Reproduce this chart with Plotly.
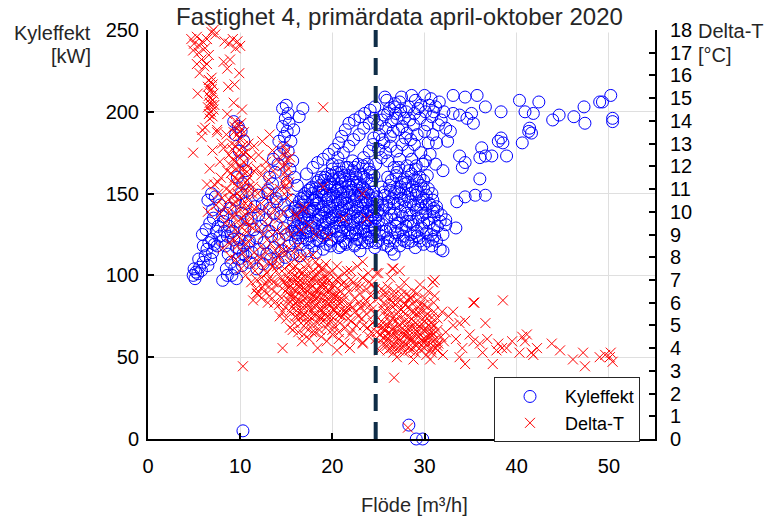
import plotly.graph_objects as go

# ---------------- data ----------------
# Kyleffekt [kW] vs Flöde [m3/h]
kyl_tail_left = [(4.9,100),(5.1,98),(5.2,102),(5.0,104),(5.4,101),(5.6,105),(5.8,103),(6.0,108),(5.5,110),
    (6.2,112),(6.5,106),(6.8,110),(6.4,116),(7.0,114),(7.2,119),(6.9,122),(7.5,118),(7.8,124),(7.4,127),
    (8.0,121),(8.3,127),(8.6,124),(6.6,120),(6.0,118),(5.9,125),(6.3,128),(6.7,132),(7.1,135),(7.0,140),
    (6.5,146),(7.3,148),(6.9,150),(7.8,143),(8.2,133),(8.5,138),(8.8,130),(9.0,126),(9.3,122),(8.4,118),
    (8.7,113),(9.0,108),(8.5,104),(9.1,100),(9.6,98),(8.1,97),(8.6,100),(9.4,104),(9.8,110),(10.2,106),
    (10.6,112),(10.4,118),(9.9,116),(7.6,130),(8.1,136),(8.9,141),(9.5,146),(10.1,150),(10.6,144),
    (10.2,138),(9.7,133),(9.2,127),(9.9,122),(10.5,128),(10.8,134),(10.9,120),(10.3,113),(9.6,117)]
kyl_mid_left = [(11.0,108),(11.8,104),(12.5,107),(13.3,110),(14.1,108),(14.9,111),(15.7,113),(16.5,112),
    (17.3,115),(18.2,114),(19.0,116),(19.8,118),(20.7,117),(21.5,119),(22.4,118),(23.2,120),
    (11.3,114),(12.1,116),(12.9,113),(13.7,117),(14.5,115),(15.3,118),(11.0,121),(11.8,123),(12.6,120),
    (13.4,124),(14.2,122),(15.0,125),(11.5,128),(12.3,130),(13.1,127),(13.9,131),(14.7,129),(11.2,135),
    (12.0,137),(12.8,134),(13.6,138),(14.4,136),(15.2,139),(11.6,142),(12.4,144),(13.2,141),(14.0,145),
    (14.8,143),(15.6,146),(12.0,149),(13.0,150)]
kyl_core = [(16.0,121),(16.8,123),(17.5,120),(18.3,122),(19.0,124),(19.8,121),(20.6,123),(21.4,120),
    (22.1,124),(22.9,122),(23.6,125),(15.6,127),(16.4,128),(17.1,126),(17.9,129),(18.6,127),(19.4,126),
    (20.2,129),(21.0,127),(21.7,128),(22.5,126),(23.3,129),(24.0,127),(15.8,133),(16.6,131),(17.3,134),
    (18.1,132),(18.9,131),(19.6,134),(20.4,132),(21.2,133),(21.9,131),(22.7,134),(23.5,132),(24.2,133),
    (15.5,137),(16.3,138),(17.0,136),(17.7,139),(18.5,137),(19.2,138),(20.0,136),(20.8,139),(21.6,137),
    (22.3,138),(23.1,136),(23.8,139),(16.0,142),(16.8,143),(17.5,141),(18.3,144),(19.0,142),(19.8,141),
    (20.6,144),(21.3,142),(22.1,143),(22.8,141),(23.6,144),(24.3,142),(16.6,147),(17.3,148),(18.1,146),
    (18.8,149),(19.6,147),(20.4,148),(21.1,146),(21.9,149),(22.6,147),(23.4,148),(24.1,146),(17.4,152),
    (18.2,153),(18.9,151),(19.7,154),(20.5,152),(21.2,151),(22.0,154),(22.8,152),(23.5,153),(18.3,157),
    (19.1,158),(19.9,156),(20.7,159),(21.4,157),(22.2,158),(23.0,156),(23.7,159),(19.5,162),(20.4,163),
    (21.3,161),(22.2,164),(23.1,162),(24.0,165),
    (16.2,125),(17.7,124),(19.3,125),(20.9,124),(22.5,125),(23.9,123),(16.2,130),(17.7,130),(19.2,129),
    (20.8,130),(22.3,129),(23.9,130),(16.9,135),(18.4,134),(19.9,135),(21.5,134),(23.0,135),(16.4,140),
    (17.9,140),(19.4,139),(21.0,140),(22.5,139),(24.0,140),(17.0,145),(18.5,144),(20.0,145),(21.6,144),
    (23.1,145),(17.8,150),(19.3,149),(20.9,150),(22.4,149),(23.9,150),(18.7,155),(20.3,154),(21.8,155),
    (23.3,154),(19.2,160),(20.8,160),(22.6,160)]
kyl_core_extra = [(16.6,119),(18.0,118),(19.4,119),(20.9,118),(22.4,119),(23.8,120),
    (16.0,126),(17.4,127),(18.9,126),(20.4,127),(21.9,126),(23.4,127),(24.6,128),
    (16.3,134),(17.8,133),(19.3,133),(20.8,134),(22.3,133),(23.8,134),(24.7,135),
    (15.9,141),(17.3,139),(18.8,140),(20.3,139),(21.8,141),(23.3,139),(24.6,141),
    (16.4,145),(17.9,146),(19.4,146),(20.9,145),(22.4,146),(23.8,145),
    (17.0,150),(18.5,151),(20.1,150),(21.6,151),(23.1,150),(24.5,151),
    (17.8,154),(19.4,155),(21.0,154),(22.6,155),(24.2,156),
    (18.8,160),(20.1,159),(21.8,161),(23.4,160),(24.5,161),(20.0,165),(21.7,166),(23.3,167),
    (16.3,123),(17.2,122),(18.6,121),(19.9,122),(21.2,121),(22.7,122),(24.2,121),
    (15.9,129),(17.0,128),(18.3,128),(19.7,128),(21.2,129),(22.6,128),(24.3,129),
    (16.6,136),(17.4,137),(18.8,136),(20.2,137),(21.0,136),(22.7,136),(24.4,137),
    (16.7,139),(18.1,141),(19.6,142),(21.1,141),(22.7,142),(24.2,139),
    (16.9,148),(18.3,148),(19.8,149),(21.4,147),(23.0,149),(24.4,147),
    (17.6,153),(19.0,153),(20.6,153),(22.1,152),(23.7,151),
    (18.5,158),(19.7,157),(21.1,158),(22.7,157),(24.3,158),
    (19.9,161),(21.0,163),(22.5,162),(24.1,163),(20.7,167),(22.4,166),(23.8,168)]
kyl_branches = [(9.3,194),(9.8,191),(10.1,188),(9.5,186),(10.4,182),(9.9,176),(10.2,170),(10.6,164),
    (9.7,160),(10.3,156),(10.8,152),(13.0,152),(13.5,156),(13.2,160),(13.8,163),(14.1,168),(13.6,171),
    (14.3,174),(14.7,178),(14.2,182),(14.8,185),(15.1,188),(14.6,191),(15.3,193),(14.9,196),(15.2,199),
    (14.6,202),(15.0,204),(16.8,202),(16.4,197),(15.8,189),(15.5,182),(15.2,176),(15.7,170),(15.4,165),
    (15.9,160),(15.1,157),(16.2,155),(14.5,150),(13.9,147),(17.2,162),(17.9,166),(18.4,169),(19.0,171),
    (19.6,174),(20.2,177),(20.7,181),(21.0,185),(21.4,189),(21.8,193),(22.4,195),(23.0,197),(23.5,199),
    (24.1,201),(24.6,203),(20.0,168),(20.6,172),(21.2,175),(21.8,179),(22.3,183),(22.9,186),(23.4,190),
    (24.0,193),(24.5,196),(22.8,168),(23.4,172),(24.0,176),(24.4,180),(21.5,166),(22.2,170)]
kyl_right_low = [(24.6,117),(25.5,119),(26.4,116),(27.3,118),(28.2,120),(29.0,117),(29.9,119),(30.8,118),
    (31.7,116),(24.3,124),(25.1,125),(26.0,123),(26.8,126),(27.7,124),(28.5,125),(29.4,123),(30.2,126),
    (31.1,124),(32.0,125),(24.6,130),(25.4,131),(26.3,129),(27.1,132),(28.0,130),(28.8,131),(29.7,129),
    (30.5,132),(31.4,130),(32.3,131),(24.2,136),(25.0,137),(25.9,135),(26.7,138),(27.6,136),(28.4,137),
    (29.3,135),(30.1,138),(31.0,136),(31.8,137),(24.5,142),(25.4,143),(26.2,141),(27.1,144),(27.9,142),
    (28.8,143),(29.6,141),(30.5,144),(31.3,142),(24.8,148),(25.7,149),(26.5,147),(27.4,150),(28.2,148),
    (29.1,149),(29.9,147),(30.8,150),(25.3,154),(26.2,155),(27.0,153),(27.9,156),(28.7,154),(29.6,155),
    (30.4,153),(26.0,160),(26.9,161),(27.8,159),(28.6,162),(29.5,160),(30.3,161),(27.2,166),(28.1,167),
    (29.0,165),(29.8,168),(25.0,121),(26.8,121),(28.6,121),(30.4,121),(25.8,127),(27.5,128),(29.2,127),
    (31.0,128),(25.0,133),(26.8,134),(28.5,133),(30.3,134),(25.5,140),(27.4,139),(29.1,140),(30.9,139),
    (26.1,145),(27.8,146),(29.6,145),(27.2,151),(29.0,152),(28.2,157),(26.7,113),(23.0,115),(32.0,115),
    (25.4,127),(27.1,126),(28.9,126),(30.7,125),(24.9,145),(26.7,144),(28.5,145),(30.2,143),(25.6,151),
    (27.4,154),(29.3,151),(30.9,146),(26.4,158),(28.3,164),(29.9,158),(26.9,130),(28.2,133),(29.9,132),
    (31.7,133),(26.0,118),(27.8,121),(29.5,121),(31.3,121),
    (24.7,120),(26.2,121),(27.6,122),(29.2,124),(30.9,122),(24.9,139),(26.4,137),(28.1,138),(29.8,137),
    (31.4,139),(25.9,143),(27.5,147),(29.3,143),(31.0,141),(26.7,150),(28.5,150),(30.2,149),(26.3,152),
    (28.0,153),(29.9,153),(27.5,157),(29.2,158),(27.0,163),(28.9,159)]
kyl_right_high = [(25.1,186),(25.8,190),(26.4,194),(25.6,198),(26.2,202),(25.9,207),(26.8,205),(27.4,201),
    (27.0,196),(27.6,191),(28.1,187),(28.4,195),(28.9,199),(28.3,203),(29.0,207),(29.6,204),(30.1,200),
    (29.5,196),(30.3,192),(30.8,197),(31.2,203),(30.7,208),(31.6,206),(32.1,200),(31.8,195),(32.3,190),
    (27.5,209),(28.6,210),(26.6,188),(27.9,184),(29.2,186),(24.9,192),(25.4,183),(26.9,199),(30.0,210),
    (24.7,168),(25.3,172),(25.0,177),(25.8,175),(26.3,179),(26.0,170),(26.7,166),(27.3,171),(27.0,176),
    (27.6,180),(28.2,176),(28.6,171),(29.1,167),(28.9,180),(29.6,175),(30.1,170),(30.6,174),(31.2,168),
    (30.4,181),(24.5,184),(25.6,181),
    (25.4,195),(26.0,199),(26.7,203),(27.3,206),(27.8,196),(28.0,200),(28.8,192),(29.3,202),(30.5,204),
    (31.0,200),(31.5,192),(26.3,185),(27.2,189),(28.5,183),(30.0,188),(30.9,186)]
kyl_outliers = [(25.7,209),(33.1,210),(34.4,209),(35.7,210),(36.6,203),(38.3,200),(40.3,207),(42.4,206),
    (40.9,200),(41.8,199),(43.9,195),(44.6,198),(46.2,197),(47.3,203),(47.4,193),(49.0,206),(49.3,206),
    (50.2,210),(50.4,196),(50.4,194),(41.4,190),(41.6,187),(41.3,188),(33.1,199),(33.8,198),(34.6,196),
    (35.1,199),(35.3,193),(32.8,188),(31.3,181),(32.5,182),(33.8,173),(34.4,169),(34.1,166),(36.2,178),
    (36.0,172),(36.6,173),(37.3,173),(38.0,182),(38.5,181),(38.3,184),(38.9,173),(40.6,181),(36.0,159),
    (36.6,149),(35.5,149),(34.4,148),(33.5,145),(33.4,129),(32.3,134),(32.0,164),
    (10.3,5),(28.3,8.5),(29.1,0),(29.8,0)]

# Delta-T [°C] vs Flöde [m3/h]
dt_top = [(4.7,17.6),(5.0,17.4),(5.3,17.7),(5.6,17.3),(5.9,17.5),(6.2,17.2),(5.5,17.0),(4.9,17.1),(6.4,17.6),
    (6.9,17.9),(7.3,17.8),(7.1,18.0),(8.3,17.5),(8.8,17.4),(9.2,17.6),(9.7,17.5),(10.0,17.3),(9.5,17.2),
    (5.8,16.7),(6.1,16.4),(5.6,16.1),(6.4,16.5),(6.6,16.9),(5.3,16.5),(8.2,16.6),(8.6,16.3),(8.9,16.7),
    (9.9,16.1),(5.4,15.2),(8.7,15.5),(9.4,15.6),(10.2,14.5),(9.3,14.8),(8.6,14.3),
    (6.6,15.8),(6.8,15.7),(7.0,15.6),(6.5,15.5),(6.9,15.4),(6.7,15.3),(7.1,15.2),(6.6,15.1),(6.8,15.0),
    (7.0,14.9),(6.7,14.8),(6.9,14.7),(6.5,14.6),(7.1,14.5),(6.8,14.4),(6.6,14.3),(7.0,14.2),(6.7,14.1),
    (6.9,15.9),(7.2,14.7),(4.9,12.6),(6.2,13.7),(5.8,13.3),(5.9,13.6),(7.5,13.6),(7.0,12.7),(6.4,11.2),
    (6.5,10.0),(6.7,11.9),(7.5,13.5),(7.8,12.2),(8.0,13.0),(7.6,11.3),(7.2,11.2),(7.6,10.8),(7.9,11.5),
    (7.4,10.3),(8.0,10.6),(7.8,9.9)]
dt_column = [(9.5,14.0),(9.8,13.8),(10.1,13.9),(9.3,13.5),(9.7,13.4),(10.0,13.2),(10.4,13.5),(9.1,13.0),
    (9.5,12.9),(9.9,12.7),(10.3,12.9),(10.6,12.6),(8.8,12.5),(9.2,12.3),(9.6,12.2),(10.0,12.0),(10.4,12.2),
    (10.8,12.0),(8.6,11.8),(9.0,11.7),(9.4,11.5),(9.8,11.4),(10.2,11.6),(10.6,11.3),(11.0,11.5),(8.5,11.0),
    (8.9,10.9),(9.3,10.7),(9.7,10.8),(10.1,10.6),(10.5,10.9),(10.9,10.5),(11.3,10.8),(8.3,10.2),(8.8,10.0),
    (9.2,10.3),(9.6,9.9),(10.0,10.1),(10.4,9.8),(10.8,10.0),(11.2,9.7),(11.6,10.1),(8.4,9.5),(9.0,9.4),
    (9.5,9.2),(10.2,9.3),(10.7,9.1),(11.4,9.3),(8.2,12.8),(8.5,13.4),(10.9,13.0),(11.2,12.4),(11.5,11.8),
    (9.2,8.8),(9.7,8.5),(10.3,8.2),(10.8,7.9),(9.5,7.9),(10.1,7.5),(10.6,7.2),(11.2,6.9),(11.7,6.6),
    (9.9,8.9),(11.6,7.4),(12.3,6.2),(9.0,8.0),(8.9,8.6),(8.1,8.4),(11.8,6.4),
    (9.35,13.75),(9.95,13.55),(9.15,12.75),(9.75,12.45),(10.35,12.55),(8.95,12.05),(9.55,11.9),
    (10.15,11.85),(10.75,11.75),(9.15,11.3),(9.75,11.1),(10.35,11.05),(10.95,11.1),(8.75,10.55),
    (9.45,10.45),(10.25,10.35),(10.85,10.25),(9.1,9.8),(9.8,9.6),(10.5,9.55),(11.0,9.4)]
dt_diagonal = [(11.5,12.9),(12.0,12.5),(12.4,13.1),(12.8,12.2),(13.2,13.4),(13.5,12.7),(11.8,11.9),
    (12.3,11.6),(12.7,11.9),(13.1,11.4),(13.6,11.8),(14.0,12.3),(11.4,11.1),(11.9,10.8),(12.4,11.0),
    (12.9,10.6),(13.4,10.9),(13.9,10.5),(14.3,11.0),(11.7,10.2),(12.2,9.9),(12.7,10.2),(13.2,9.8),
    (13.7,10.1),(14.2,9.7),(14.7,10.0),(12.0,9.3),(12.5,9.0),(13.0,9.4),(13.5,9.0),(14.0,9.2),(14.5,8.9),
    (15.0,9.3),(15.5,9.0),(12.3,8.5),(12.8,8.2),(13.3,8.6),(13.8,8.3),(14.3,8.5),(14.8,8.1),(15.3,8.4),
    (15.8,8.2),(16.3,8.5),(11.0,8.7),(11.5,8.2),(10.6,8.6),(11.1,7.7),(12.0,7.8),(12.6,7.5),(13.1,7.8),
    (14.7,12.9),(15.0,12.7),(14.8,12.5),(15.1,12.3),(14.9,12.1),(15.2,11.9),(14.8,11.7),(15.0,11.5),
    (15.3,11.3),(14.9,11.1),(15.1,10.9),(15.2,10.6),(14.6,12.0),(15.4,12.4),(14.7,11.3),
    (16.1,9.8),(16.8,10.1),(17.0,10.2),(16.0,9.9),(19.0,11.1),(23.3,10.8),(21.2,9.7),(23.7,9.7),
    (19.0,14.6),(17.5,9.4),(18.2,9.0),(16.6,9.2),(19.5,8.9),
    (12.3,7.1),(12.9,7.3),(13.4,7.0),(13.9,7.4),(14.4,7.1),(12.6,6.5),(11.8,7.0),(12.1,8.0),(13.8,7.9)]
dt_band = [(15.0,7.2),(15.6,7.3),(16.2,7.1),(16.8,7.3),(17.4,7.2),(18.0,7.1),(18.6,7.3),(19.2,7.2),
    (14.7,6.9),(15.3,6.8),(15.9,6.9),(16.5,6.8),(17.1,6.9),(17.7,6.8),(18.3,6.9),(18.9,6.8),(19.5,6.9),
    (20.1,6.8),(14.9,6.5),(15.5,6.4),(16.1,6.5),(16.7,6.6),(17.3,6.5),(17.9,6.4),(18.5,6.5),(19.1,6.6),
    (19.7,6.5),(20.3,6.4),(20.9,6.5),(15.2,6.1),(15.8,6.2),(16.4,6.1),(17.0,6.2),(17.6,6.1),(18.2,6.2),
    (18.8,6.1),(19.4,6.2),(20.0,6.1),(20.6,6.2),(21.2,6.1),(15.6,5.8),(16.2,5.9),(16.8,5.8),(17.4,5.9),
    (18.0,5.8),(18.6,5.7),(19.2,5.8),(19.8,5.9),(20.4,5.8),(21.0,5.7),(21.6,5.8),(16.3,5.4),(16.9,5.5),
    (17.5,5.4),(18.1,5.5),(18.7,5.4),(19.3,5.5),(19.9,5.4),(20.5,5.5),(21.1,5.4),(17.2,5.1),(17.8,5.0),
    (18.4,5.1),(19.0,5.2),(19.6,5.1),(20.2,5.0),(20.8,5.1),(15.3,7.0),(16.5,7.0),(17.7,7.0),(18.9,7.0),
    (15.2,6.65),(16.4,6.7),(17.6,6.65),(18.8,6.7),(20.0,6.65),(15.5,6.3),(16.7,6.35),(17.9,6.3),(19.1,6.35),
    (20.3,6.3),(16.0,6.0),(17.2,5.95),(18.4,6.0),(19.6,5.95),(20.8,6.0),(16.6,5.6),(17.8,5.65),(19.0,5.6),
    (20.2,5.65),(17.5,5.25),(18.7,5.3),(19.9,5.25),
    (13.5,7.6),(14.2,8.0),(14.6,8.3),(15.4,7.7),(16.0,7.6),(16.6,8.0),(17.3,7.7),(17.9,8.1),(18.5,7.6),
    (19.3,7.7),(20.0,7.4),(20.6,7.1),(21.3,6.9),(22.0,7.0),(22.6,6.7),(23.3,7.1),(24.0,6.9),(21.6,7.4),
    (22.7,7.6),(12.7,6.8),(13.2,6.3),(13.6,6.9),(14.0,6.4),(14.2,5.9),(14.6,5.6),(15.0,5.3),(15.4,4.9),
    (15.9,5.1),(16.3,4.7),(16.9,4.6),(17.5,4.4),(18.1,4.7),(18.8,4.5),(19.4,4.3),(20.0,4.6),(20.7,4.4),
    (21.3,4.2),(21.9,4.6),(22.6,4.4),(23.3,4.2),(24.0,4.5),(11.9,6.4),(11.4,6.1),(13.0,6.0),(14.3,5.4),
    (14.6,4.0),(15.7,4.8),(16.7,4.3),(18.4,4.0),(20.5,3.9),(21.9,4.0),(23.3,4.25),
    (21.8,6.5),(22.4,6.2),(23.0,6.4),(23.6,6.1),(24.2,6.3),(21.9,5.9),(22.5,5.6),(23.1,5.8),(23.7,5.5),
    (24.3,5.7),(22.0,5.2),(22.6,5.0),(23.2,5.3),(23.8,4.9),(24.4,5.1),(24.6,6.6),(24.8,4.7)]
dt_band_extra = [(14.0,7.6),(14.8,7.5),(15.7,7.5),(16.4,7.4),(17.1,7.5),(17.9,7.4),(18.8,7.5),(19.7,7.3),
    (20.4,7.0),(21.0,6.8),(21.6,6.7),(22.3,6.9),(23.0,6.7),(23.7,6.6),(24.3,6.8),(13.4,6.6),(14.1,6.8),
    (14.5,6.2),(13.7,6.0),(14.9,5.8),(15.4,5.6),(16.0,5.4),(16.6,5.1),(17.1,4.9),(17.8,4.7),(18.6,4.8),
    (19.3,4.9),(20.0,4.8),(20.7,4.7),(21.4,4.9),(21.7,5.3),(21.5,5.6),(22.2,5.8),(22.9,6.0),(23.5,5.9),
    (24.1,5.9),(22.8,5.4),(23.4,5.0),(24.2,4.7),(22.2,4.8),(15.9,7.9),(17.0,8.0),(18.2,7.8),(19.0,7.5),
    (20.5,7.6),(21.3,7.3),(22.0,7.4),(23.9,7.3),(13.0,7.0),(12.4,6.7),
    (15.0,6.8),(15.7,6.6),(16.3,6.85),(17.0,6.6),(17.6,6.85),(18.2,6.55),(18.9,6.85),(19.5,6.55),(20.2,6.75),
    (15.4,6.05),(16.0,6.25),(16.7,6.0),(17.3,6.3),(18.0,6.05),(18.6,6.3),(19.3,6.0),(19.9,6.3),(20.6,6.05),
    (21.3,6.3),(16.1,5.65),(16.8,5.4),(17.4,5.7),(18.1,5.4),(18.8,5.7),(19.4,5.35),(20.1,5.7),(20.8,5.45),
    (21.4,5.6),(15.8,7.1),(16.9,7.15),(18.1,7.2),(19.4,7.05)]
dt_right = [(25.3,6.6),(26.0,6.7),(26.7,6.5),(27.4,6.6),(28.1,6.4),(28.8,6.5),(25.0,6.2),(25.7,6.3),
    (26.4,6.1),(27.1,6.2),(27.8,6.0),(28.5,6.2),(29.2,6.1),(29.9,5.9),(25.4,5.8),(26.1,5.7),(26.8,5.9),
    (27.5,5.7),(28.2,5.8),(28.9,5.6),(29.6,5.7),(30.3,5.5),(31.0,5.6),(25.8,5.4),(26.5,5.3),(27.2,5.4),
    (27.9,5.2),(28.6,5.3),(29.3,5.4),(30.0,5.2),(30.7,5.1),(31.4,5.3),(25.4,4.9),(26.0,5.0),(26.6,4.9),
    (27.2,5.0),(27.8,4.8),(28.4,4.9),(29.0,4.8),(29.6,4.9),(30.2,4.8),(30.8,4.7),(31.4,4.8),(25.2,4.6),
    (25.8,4.5),(26.4,4.6),(27.0,4.5),(27.6,4.6),(28.2,4.5),(28.8,4.6),(29.4,4.5),(30.0,4.4),(30.6,4.5),
    (31.2,4.4),(31.8,4.5),(25.5,4.2),(26.1,4.3),(26.7,4.2),(27.3,4.1),(27.9,4.2),(28.5,4.3),(29.1,4.2),
    (29.7,4.1),(30.3,4.2),(30.9,4.1),(31.5,4.2),(32.1,4.3),(26.0,3.9),(26.6,3.8),(27.2,3.9),(27.8,3.8),
    (28.4,3.9),(29.0,3.8),(29.6,3.9),(30.2,3.7),(30.8,3.8),(31.4,3.9),(25.7,4.75),(26.9,4.7),(28.1,4.7),
    (29.3,4.7),(30.5,4.65),(26.1,4.4),(27.3,4.35),(28.5,4.4),(29.7,4.35),(30.9,4.3),(26.4,4.0),(27.6,4.0),
    (28.8,4.0),(30.0,4.0),(31.2,4.0),(24.6,5.5),(24.9,5.0),(24.7,4.4),(25.1,3.9),(27.0,3.6),(28.8,3.5),
    (30.6,3.5),(32.0,3.7),(32.3,4.7),(31.9,5.6),(31.1,6.3),(30.4,6.5),(29.5,6.8),(26.3,7.1),(27.8,6.9),
    (25.0,7.3),(26.5,7.5),(27.3,7.4),(31.1,7.0),(23.3,7.8),(24.8,7.3),(23.3,7.1),(30.9,6.9),(26.6,7.5),
    (25.5,5.1),(26.2,5.15),(26.9,5.2),(27.6,5.1),(28.3,5.15),(29.0,5.1),(29.7,5.05),(30.4,5.0),(31.1,5.0),
    (25.6,5.6),(26.4,5.5),(27.1,5.6),(27.9,5.5),(28.6,5.6),(29.4,5.55),(30.1,5.4),(30.8,5.35),(25.6,6.0),
    (26.3,5.9),(27.1,6.0),(27.9,5.9),(28.7,5.95),(29.5,5.9),(30.3,5.8),(25.8,6.45),(26.6,6.3),(27.5,6.35),
    (28.4,6.2),(29.2,6.4),(30.0,6.2),(31.0,6.0),
    (25.5,4.45),(26.3,4.55),(27.1,4.4),(27.9,4.55),(28.7,4.4),(29.5,4.6),(30.3,4.45),(31.0,4.6),
    (25.9,4.1),(26.7,4.0),(27.5,4.15),(28.3,4.05),(29.1,4.1),(29.9,4.25),(30.7,3.95),(31.4,4.1),
    (25.7,4.85),(26.5,4.8),(27.4,4.8),(28.2,4.85),(29.0,4.95),(29.9,4.8),(30.7,4.9)]
dt_tail = [(30.9,6.9),(35.3,6.0),(36.6,5.1),(33.1,5.6),(33.8,5.1),(33.1,5.0),(34.4,5.2),(33.8,3.6),
    (34.4,3.3),(34.1,4.0),(35.3,4.3),(36.0,4.2),(36.3,3.8),(37.4,3.3),(38.0,4.2),(38.4,4.0),(38.9,4.0),
    (37.8,3.9),(40.6,4.5),(40.9,4.3),(40.3,3.8),(41.6,3.8),(42.2,4.0),(41.8,3.7),(43.8,4.2),(44.7,3.9),
    (46.1,3.5),(47.2,3.8),(47.4,3.2),(49.0,3.6),(49.6,3.7),(50.1,3.6),(50.4,3.4),(50.2,3.8),(38.5,6.1),
    (41.1,4.6),(35.4,6.0),(32.6,5.4),(33.4,4.4),(34.9,4.6),(36.8,4.4),(39.5,4.3),
    (10.3,3.2),(26.7,2.7),(28.2,0.5)]

split_flow_m3h = 24.7          # dashed vertical line
x_ticks = [0, 10, 20, 30, 40, 50]
kw_ticks = [0, 50, 100, 150, 200, 250]
dt_ticks = list(range(0, 19))

kyl = (kyl_tail_left + kyl_mid_left + kyl_core + kyl_core_extra + kyl_branches + kyl_right_low
       + kyl_right_high + kyl_outliers)
dt = dt_top + dt_column + dt_diagonal + dt_band + dt_band_extra + dt_right + dt_tail

FONT = "Liberation Sans, Arial, sans-serif"

fig = go.Figure()
fig.add_trace(go.Scatter(
    x=[p[0] for p in kyl], y=[p[1] for p in kyl], mode="markers", name="Kyleffekt",
    marker=dict(symbol="circle-open", size=12, color="#0000ff", line=dict(width=1, color="#0000ff")),
    cliponaxis=False, yaxis="y"))
fig.add_trace(go.Scatter(
    x=[p[0] for p in dt], y=[p[1] for p in dt], mode="markers", name="Delta-T",
    marker=dict(symbol="x-thin-open", size=10, color="#ff0000", line=dict(width=1, color="#ff0000")),
    cliponaxis=False, yaxis="y2"))

fig.add_shape(type="line", xref="x", yref="y", x0=split_flow_m3h, x1=split_flow_m3h, y0=0, y1=250,
              line=dict(color="#0f2d47", width=4, dash="17px,11px"), layer="above")
# top border hidden behind title (as in reference)
fig.add_shape(type="rect", xref="x", yref="y", x0=3.5, x1=51.5, y0=248.5, y1=251.5,
              fillcolor="white", line=dict(width=0), layer="between")

axis_common = dict(showline=True, linecolor="black", linewidth=2, ticks="inside", ticklen=6,
                   tickwidth=2, tickcolor="black", zeroline=False,
                   tickfont=dict(family=FONT, size=20, color="black"))
fig.update_layout(
    width=770, height=517,
    margin=dict(l=148, r=115, t=30, b=78, pad=0),
    paper_bgcolor="white", plot_bgcolor="white",
    showlegend=True,
    xaxis=dict(range=[0, 55], tickvals=x_ticks, showgrid=True, gridcolor="#dfdfdf", gridwidth=1,
               ticklabelstandoff=8, **axis_common),
    yaxis=dict(range=[0, 250], tickvals=kw_ticks, showgrid=True, gridcolor="#dfdfdf", gridwidth=1,
               ticklabelstandoff=3, **axis_common),
    yaxis2=dict(range=[0, 18], tickvals=dt_ticks, overlaying="y", side="right", anchor="x",
                showgrid=False, ticklabelstandoff=9, **axis_common),
    legend=dict(x=(494 - 148) / 507, y=(438.7 - 377) / 408.7, xanchor="left", yanchor="top",
                bgcolor="white", bordercolor="#262626", borderwidth=1,
                font=dict(family=FONT, size=18, color="black"), itemwidth=60, traceorder="normal"),
    font=dict(family=FONT),
)

def px_x(px):
    return (px - 148) / 507

def px_y(py):
    return (438.7 - py) / 408.7

ann = [
    dict(text="Fastighet 4, primärdata april-oktober 2020", x=px_x(399), y=px_y(17), xanchor="center",
         yanchor="middle", font=dict(size=24, color="#262626")),
    dict(text="Kyleffekt", x=px_x(93), y=px_y(33), xanchor="right", yanchor="middle",
         font=dict(size=20, color="#262626")),
    dict(text="[kW]", x=px_x(93), y=px_y(56), xanchor="right", yanchor="middle",
         font=dict(size=20, color="#262626")),
    dict(text="Delta-T", x=px_x(696), y=px_y(31), xanchor="left", yanchor="middle",
         font=dict(size=20, color="#262626")),
    dict(text="[°C]", x=px_x(696), y=px_y(55), xanchor="left", yanchor="middle",
         font=dict(size=20, color="#262626")),
    dict(text="Flöde [m³/h]", x=px_x(414), y=px_y(505), xanchor="center", yanchor="middle",
         font=dict(size=20, color="#262626")),
]
for a in ann:
    a.update(xref="paper", yref="paper", showarrow=False)
    a["font"]["family"] = FONT
fig.update_layout(annotations=ann)

fig.write_html("out.html")
